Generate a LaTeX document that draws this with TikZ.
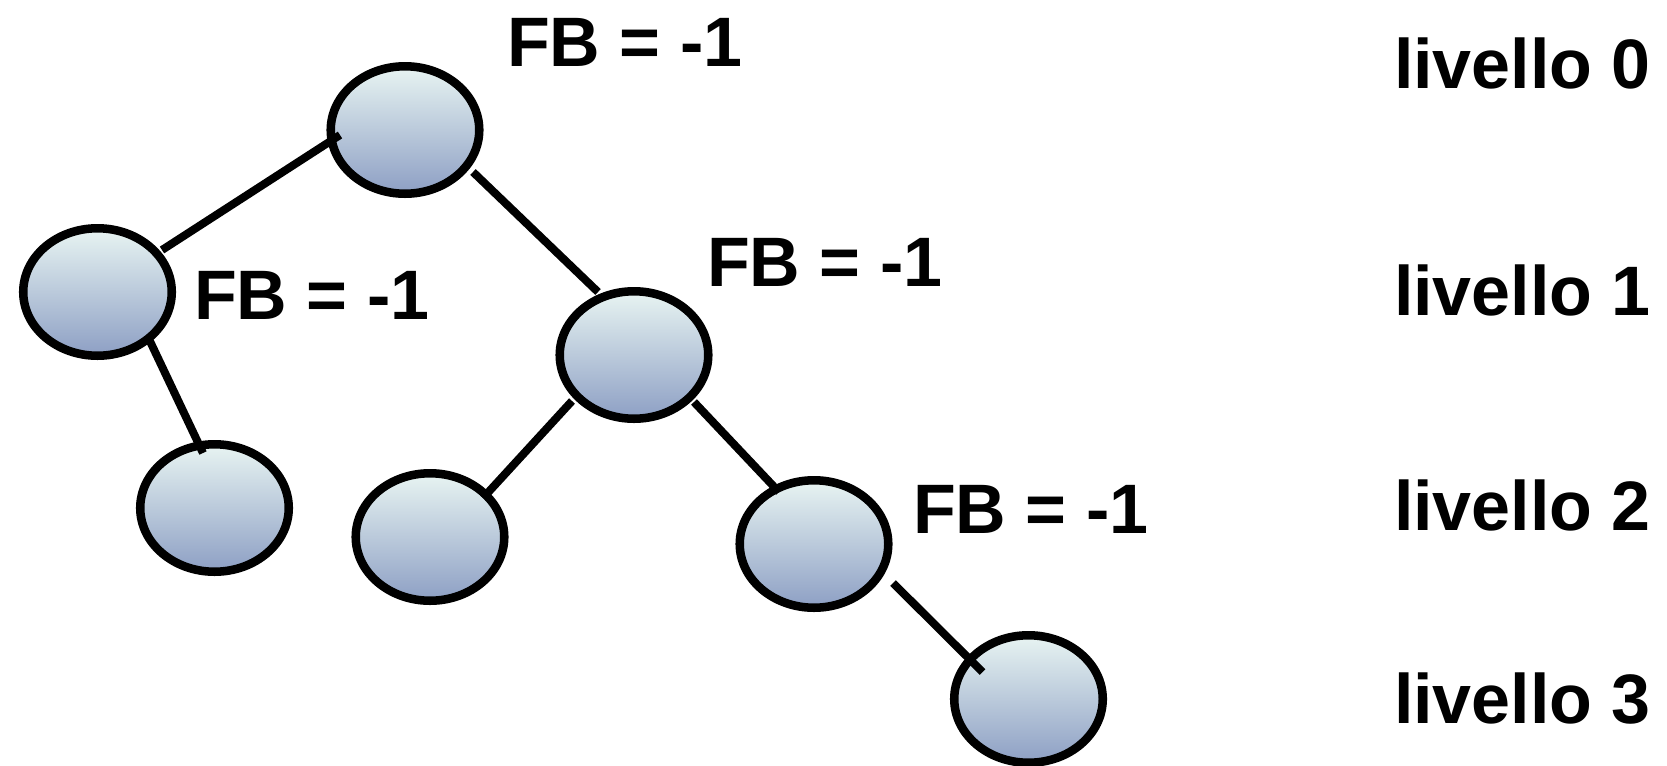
\documentclass[tikz,border=0pt]{standalone}
\usepackage{fontspec}
\setmainfont{Liberation Sans}
\usetikzlibrary{shapes.geometric,calc}
\definecolor{nodetop}{RGB}{232,244,242}
\definecolor{nodebot}{RGB}{141,159,196}
\tikzset{
  treenode/.style={ellipse, draw=black, line width=6.4pt, inner sep=0pt,
    minimum width=111.4pt, minimum height=95.6pt,
    top color=nodetop, bottom color=nodebot},
  edge/.style={draw=black, line width=6pt},
  lbl/.style={anchor=base west, inner sep=0pt, outer sep=0pt,
    font=\fontsize{52.5pt}{60pt}\selectfont\bfseries}
}
\begin{document}
\begin{tikzpicture}[x=0.75pt,y=-0.75pt]
\useasboundingbox (0,0) rectangle (1667,765);
% nodes
\node[treenode] (root) at (405,130) {};
\node[treenode] (l1a) at (97.5,292) {};
\node[treenode] (l1b) at (634,355) {};
\node[treenode] (l2a) at (214.5,508) {};
\node[treenode] (l2b) at (430,537) {};
\node[treenode] (l2c) at (814,544) {};
\node[treenode] (l3) at (1028.5,699) {};
% edges
\draw[edge] ($(root)+(-65,5)$) -- ($(l1a)+(64.5,-42)$);
\draw[edge] ($(root)+(68,42)$) -- ($(l1b)+(-36,-63)$);
\draw[edge] ($(l1a)+(50.5,45)$) -- ($(l2a)+(-11.5,-55)$);
\draw[edge] ($(l1b)+(-62,46)$) -- ($(l2b)+(53,-39)$);
\draw[edge] ($(l1b)+(60,47)$) -- ($(l2c)+(-35,-52)$);
\draw[edge] ($(l2c)+(79,39)$) -- ($(l3)+(-46,-27)$);
% balance factor labels
\node[lbl] (fbroot) at (507,66) {FB = -1};
\node[lbl] (fbl1a) at (194,319) {FB = -1};
\node[lbl] (fbl1b) at (707,286) {FB = -1};
\node[lbl] (fbl2c) at (913,533) {FB = -1};
% level labels
\node[lbl] (lev0) at (1394,88) {livello 0};
\node[lbl] (lev1) at (1394,315) {livello 1};
\node[lbl] (lev2) at (1394,530) {livello 2};
\node[lbl] (lev3) at (1394,723) {livello 3};
\end{tikzpicture}
\end{document}
